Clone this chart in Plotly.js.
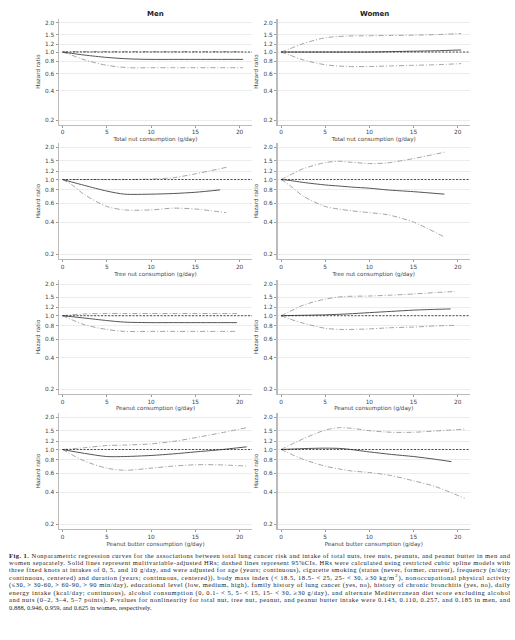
<!DOCTYPE html>
<html>
<head>
<meta charset="utf-8">
<script src="https://cdn.plot.ly/plotly-3.0.1.min.js"></script>
<style>html,body{margin:0;padding:0;background:#fff;}#chart{width:515px;height:640px;}</style>
</head>
<body>
<div id="chart"></div>
<script>
// ---------------- DATA ----------------
const columnTitles = ["Men", "Women"];
const xAxisTitles = ["Total nut consumption (g/day)", "Tree nut consumption (g/day)", "Peanut consumption (g/day)", "Peanut butter consumption (g/day)"];
const yTickVals = [0.2, 0.4, 0.6, 0.8, 1.0, 1.2, 1.5, 2.0];
const yTickText = ["0.2", "0.4", "0.6", "0.8", "1.0", "1.2", "1.5", "2.0"];
const xTickVals = [0, 5, 10, 15, 20];

// Men, total nut
const menTotalX  = [0, 1, 2.5, 5, 7.5, 10, 12.5, 15, 17.5, 20.4];
const menTotalHR = [1.0, 0.97, 0.93, 0.88, 0.85, 0.84, 0.84, 0.84, 0.84, 0.84];
const menTotalLo = [1.0, 0.93, 0.83, 0.73, 0.69, 0.69, 0.69, 0.69, 0.69, 0.69];
const menTotalHi = [1.0, 1.01, 1.01, 1.01, 1.01, 1.01, 1.01, 1.01, 1.01, 1.01];
// Women, total nut
const womenTotalX  = [0, 1, 2.5, 5, 7.5, 10, 12.5, 15, 17.5, 20.4];
const womenTotalHR = [1.0, 1.0, 1.0, 1.0, 1.0, 1.0, 1.01, 1.02, 1.03, 1.05];
const womenTotalLo = [1.0, 0.93, 0.83, 0.74, 0.71, 0.71, 0.72, 0.73, 0.74, 0.76];
const womenTotalHi = [1.0, 1.08, 1.22, 1.40, 1.46, 1.47, 1.48, 1.49, 1.51, 1.55];
// Men, tree nut
const menTreeX   = [0, 1, 2.5, 5, 7, 10, 12.5, 15, 17.8];
const menTreeHR  = [1.0, 0.95, 0.88, 0.78, 0.73, 0.73, 0.74, 0.76, 0.80];
const menTreeCIX = [0, 1, 2.5, 5, 7, 10, 12.5, 15, 18.5];
const menTreeLo  = [1.0, 0.90, 0.72, 0.56, 0.52, 0.52, 0.54, 0.53, 0.49];
const menTreeHi  = [1.0, 1.0, 1.0, 1.0, 1.0, 1.01, 1.04, 1.13, 1.30];
// Women, tree nut
const womenTreeX  = [0, 1, 2.5, 5, 6.5, 8, 10, 12, 15, 18.5];
const womenTreeHR = [1.0, 0.98, 0.94, 0.89, 0.87, 0.85, 0.83, 0.80, 0.77, 0.73];
const womenTreeLo = [1.0, 0.88, 0.70, 0.56, 0.53, 0.51, 0.49, 0.47, 0.40, 0.29];
const womenTreeHi = [1.0, 1.10, 1.26, 1.44, 1.48, 1.45, 1.41, 1.43, 1.57, 1.80];
// Men, peanut
const menPeanutX  = [0, 1, 2.5, 5, 7, 10, 12.5, 15, 17.5, 19.7];
const menPeanutHR = [1.0, 0.98, 0.95, 0.90, 0.87, 0.86, 0.86, 0.86, 0.86, 0.86];
const menPeanutLo = [1.0, 0.92, 0.82, 0.74, 0.71, 0.71, 0.71, 0.71, 0.71, 0.71];
const menPeanutHi = [1.0, 1.02, 1.04, 1.05, 1.05, 1.05, 1.05, 1.05, 1.05, 1.05];
// Women, peanut
const womenPeanutX   = [0, 2.5, 5, 7.5, 10, 12.5, 15, 17.5, 19.2];
const womenPeanutHR  = [1.0, 1.01, 1.02, 1.04, 1.07, 1.10, 1.13, 1.15, 1.16];
const womenPeanutCIX = [0, 1, 2.5, 5, 7, 10, 12.5, 15, 17.5, 19.7];
const womenPeanutLo  = [1.0, 0.93, 0.85, 0.76, 0.74, 0.75, 0.77, 0.78, 0.80, 0.81];
const womenPeanutHi  = [1.0, 1.10, 1.26, 1.44, 1.52, 1.54, 1.57, 1.61, 1.66, 1.70];
// Men, peanut butter
const menButterX  = [0, 2.5, 5, 7, 10, 12.5, 15, 17.5, 20.8];
const menButterHR = [1.0, 0.92, 0.86, 0.86, 0.88, 0.91, 0.95, 0.99, 1.06];
const menButterLo = [1.0, 0.78, 0.67, 0.64, 0.67, 0.70, 0.72, 0.72, 0.70];
const menButterHi = [1.0, 1.04, 1.09, 1.10, 1.13, 1.19, 1.29, 1.41, 1.60];
// Women, peanut butter
const womenButterX   = [0, 2.5, 5, 7, 10, 12.5, 15, 17.5, 19.3];
const womenButterHR  = [1.0, 1.02, 1.03, 1.02, 0.95, 0.90, 0.86, 0.81, 0.77];
const womenButterCIX = [0, 2.5, 5, 6.5, 8, 10, 12.5, 15, 17.5, 20.8];
const womenButterLo  = [1.0, 0.81, 0.70, 0.66, 0.63, 0.61, 0.57, 0.51, 0.45, 0.35];
const womenButterHi  = [1.0, 1.26, 1.52, 1.60, 1.58, 1.50, 1.45, 1.45, 1.49, 1.55];

const captionLines = [
  "<b>Fig. 1.</b> Nonparametric regression curves for the associations between total lung cancer risk and intake of total nuts, tree nuts, peanuts, and peanut butter in men and",
  "women separately. Solid lines represent multivariable-adjusted HRs; dashed lines represent 95%CIs. HRs were calculated using restricted cubic spline models with",
  "three fixed knots at intakes of 0, 5, and 10 g/day, and were adjusted for age (years; continuous), cigarette smoking (status (never, former, current), frequency (n/day;",
  "continuous, centered) and duration (years; continuous, centered)), body mass index (< 18.5, 18.5- < 25, 25- < 30, ≥30 kg/m<sup>2</sup>), nonoccupational physical activity",
  "(≤30, > 30-60, > 60-90, > 90 min/day), educational level (low, medium, high), family history of lung cancer (yes, no), history of chronic bronchitis (yes, no), daily",
  "energy intake (kcal/day; continuous), alcohol consumption (0, 0.1- < 5, 5- < 15, 15- < 30, ≥30 g/day), and alternate Mediterranean diet score excluding alcohol",
  "and nuts (0–2, 3–4, 5–7 points). P-values for nonlinearity for total nut, tree nut, peanut, and peanut butter intake were 0.143, 0.110, 0.257, and 0.185 in men, and",
  "0.888, 0.946, 0.959, and 0.625 in women, respectively."
];

// panels: [row][col] -> {hrX, hr, ciX, lo, hi}
const panels = [
  [{hrX: menTotalX, hr: menTotalHR, ciX: menTotalX, lo: menTotalLo, hi: menTotalHi},
   {hrX: womenTotalX, hr: womenTotalHR, ciX: womenTotalX, lo: womenTotalLo, hi: womenTotalHi}],
  [{hrX: menTreeX, hr: menTreeHR, ciX: menTreeCIX, lo: menTreeLo, hi: menTreeHi},
   {hrX: womenTreeX, hr: womenTreeHR, ciX: womenTreeX, lo: womenTreeLo, hi: womenTreeHi}],
  [{hrX: menPeanutX, hr: menPeanutHR, ciX: menPeanutX, lo: menPeanutLo, hi: menPeanutHi},
   {hrX: womenPeanutX, hr: womenPeanutHR, ciX: womenPeanutCIX, lo: womenPeanutLo, hi: womenPeanutHi}],
  [{hrX: menButterX, hr: menButterHR, ciX: menButterX, lo: menButterLo, hi: menButterHi},
   {hrX: womenButterX, hr: womenButterHR, ciX: womenButterCIX, lo: womenButterLo, hi: womenButterHi}]
];

// ---------------- LAYOUT ----------------
const W = 515, H = 640;
const colPx = [[59, 252], [277.5, 470]];
const rowPx = [[18.7, 124.5], [142.9, 259.2], [279.7, 394.1], [412.9, 529.2]];
const xRange = [-0.4, 21.4];
const yRange = [Math.log10(0.18), Math.log10(2.2)];
const titleCenters = [155, 374];

const traces = [];
const layout = {
  width: W, height: H,
  margin: {l: 0, r: 0, t: 0, b: 0},
  paper_bgcolor: "#fff", plot_bgcolor: "#fff",
  showlegend: false,
  font: {family: "DejaVu Sans", size: 5.6, color: "#444"},
  annotations: [], shapes: []
};

const ciDash = "5px,2px,1px,2px";
let idx = 0;
for (let r = 0; r < 4; r++) {
  for (let c = 0; c < 2; c++) {
    idx++;
    const xa = idx === 1 ? "x" : "x" + idx;
    const ya = idx === 1 ? "y" : "y" + idx;
    const xKey = idx === 1 ? "xaxis" : "xaxis" + idx;
    const yKey = idx === 1 ? "yaxis" : "yaxis" + idx;
    const p = panels[r][c];
    layout[xKey] = {
      domain: [colPx[c][0] / W, colPx[c][1] / W],
      anchor: ya, range: xRange, tickvals: xTickVals,
      showgrid: false, zeroline: false,
      showline: true, linecolor: "#bbb", linewidth: 1,
      ticks: "outside", ticklen: 2, tickcolor: "#999",
      tickfont: {size: 5.8, color: "#444"},
      title: {text: xAxisTitles[r], font: {size: 5.6, color: "#444"}, standoff: 2}
    };
    layout[yKey] = {
      domain: [1 - rowPx[r][1] / H, 1 - rowPx[r][0] / H],
      anchor: xa, type: "log", range: yRange,
      tickvals: yTickVals, ticktext: yTickText,
      showgrid: true, gridcolor: "#ececec", gridwidth: 1, zeroline: false,
      showline: true, linecolor: "#bbb", linewidth: 1.5,
      ticks: "outside", ticklen: 2, tickcolor: "#999",
      tickfont: {size: 5.8, color: "#444"},
      title: {text: "Hazard ratio", font: {size: 5.6, color: "#444"}, standoff: 4}
    };
    // reference line at HR = 1
    layout.shapes.push({type: "line", xref: xa, yref: ya, x0: 0, x1: xRange[1], y0: 1, y1: 1,
      line: {color: "#222", width: 0.8, dash: "2px,1.5px"}});
    traces.push({x: p.ciX, y: p.hi, xaxis: xa, yaxis: ya, mode: "lines",
      line: {color: "#9a9a9a", width: 0.9, dash: ciDash, shape: "spline", smoothing: 0.8}, hoverinfo: "skip"});
    traces.push({x: p.ciX, y: p.lo, xaxis: xa, yaxis: ya, mode: "lines",
      line: {color: "#9a9a9a", width: 0.9, dash: ciDash, shape: "spline", smoothing: 0.8}, hoverinfo: "skip"});
    traces.push({x: p.hrX, y: p.hr, xaxis: xa, yaxis: ya, mode: "lines",
      line: {color: "#555", width: 1, shape: "spline", smoothing: 0.8}, hoverinfo: "skip"});
  }
}

// column titles
columnTitles.forEach((t, c) => {
  layout.annotations.push({text: "<b>" + t + "</b>", xref: "paper", yref: "paper",
    x: titleCenters[c] / W, y: 1 - 14 / H, xanchor: "center", yanchor: "middle",
    showarrow: false, font: {family: "DejaVu Sans", size: 7, color: "#222"}});
});

// caption
const capLeft = 7, capRight = 508;
captionLines.forEach((t, i) => {
  layout.annotations.push({text: t, xref: "paper", yref: "paper",
    x: capLeft / W, y: 1 - (555 + i * 7.5) / H, xanchor: "left", yanchor: "middle", align: "left",
    showarrow: false, font: {family: "Liberation Serif", size: 6.5, color: "#222"}});
});

Plotly.newPlot("chart", traces, layout, {staticPlot: true, displayModeBar: false}).then(() => {
  // justify caption lines (all but the last) to the full caption width
  const prefixes = captionLines.map(l => l.replace(/<[^>]+>/g, "").slice(0, 25));
  const nodes = document.querySelectorAll("#chart .annotation-text");
  nodes.forEach(el => {
    const txt = (el.textContent || "").replace(/[\u200b]/g, "");
    const lineIdx = prefixes.findIndex(p => txt.startsWith(p));
    if (lineIdx < 0 || lineIdx === captionLines.length - 1) return;
    try {
      const bb = el.getBBox();
      el.setAttribute("text-anchor", "start");
      el.setAttribute("x", bb.x);
      el.setAttribute("textLength", capRight - capLeft);
      el.setAttribute("lengthAdjust", "spacing");
    } catch (e) {}
  });
});
</script>
</body>
</html>
